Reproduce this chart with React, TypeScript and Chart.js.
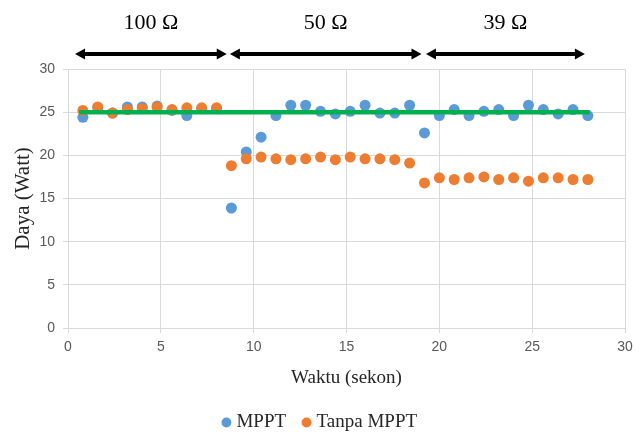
import React, { useEffect, useRef } from "react";
import { Chart, registerables } from "chart.js";

Chart.register(...registerables);

const timeSec = [
  0.8, 1.6, 2.4, 3.2, 4.0, 4.8, 5.6, 6.4, 7.2, 8.0, 8.8, 9.6, 10.4, 11.2, 12.0, 12.8, 13.6, 14.4,
  15.2, 16.0, 16.8, 17.6, 18.4, 19.2, 20.0, 20.8, 21.6, 22.4, 23.2, 24.0, 24.8, 25.6, 26.4, 27.2, 28.0,
];
const mpptWatt = [
  24.4, 25.5, 24.9, 25.6, 25.6, 25.7, 25.2, 24.6, 25.4, 25.4, 13.9, 20.4, 22.1, 24.6, 25.8, 25.8, 25.1, 24.8,
  25.1, 25.8, 24.9, 24.9, 25.8, 22.6, 24.6, 25.3, 24.6, 25.1, 25.3, 24.6, 25.8, 25.3, 24.8, 25.3, 24.6,
];
const tanpaMpptWatt = [
  25.2, 25.6, 24.9, 25.3, 25.4, 25.6, 25.3, 25.5, 25.5, 25.5, 18.8, 19.6, 19.8, 19.6, 19.5, 19.6, 19.8, 19.5,
  19.8, 19.6, 19.6, 19.5, 19.1, 16.8, 17.4, 17.2, 17.4, 17.5, 17.2, 17.4, 17.0, 17.4, 17.4, 17.2, 17.2,
];
const targetX = [0.6, 28.1];
const targetY = [25, 25];

const regionLabels = ["100 Ω", "50 Ω", "39 Ω"];
const regionStart = [0.38, 8.72, 19.28];
const regionEnd = [8.55, 19.04, 27.84];

const seriesLabels = ["MPPT", "Tanpa MPPT"];
const xAxisTitle = "Waktu (sekon)";
const yAxisTitle = "Daya (Watt)";

const SERIF = "'Liberation Serif', 'Times New Roman', serif";
const SANS = "'Liberation Sans', Arial, sans-serif";

const regionArrowsPlugin = {
  id: "regionArrows",
  afterDraw(chart: any) {
    const { ctx } = chart;
    const xs = chart.scales.x;
    const arrowY = 54;
    const textY = 23;
    const head = 10;
    const halfH = 5.5;
    ctx.save();
    ctx.fillStyle = "#000000";
    ctx.strokeStyle = "#000000";
    ctx.lineWidth = 4;
    ctx.font = `22px ${SERIF}`;
    ctx.textAlign = "center";
    ctx.textBaseline = "middle";
    for (let i = 0; i < regionLabels.length; i++) {
      const x1 = xs.getPixelForValue(regionStart[i]);
      const x2 = xs.getPixelForValue(regionEnd[i]);
      ctx.beginPath();
      ctx.moveTo(x1 + head - 1, arrowY);
      ctx.lineTo(x2 - head + 1, arrowY);
      ctx.stroke();
      ctx.beginPath();
      ctx.moveTo(x1, arrowY);
      ctx.lineTo(x1 + head, arrowY - halfH);
      ctx.lineTo(x1 + head, arrowY + halfH);
      ctx.closePath();
      ctx.fill();
      ctx.beginPath();
      ctx.moveTo(x2, arrowY);
      ctx.lineTo(x2 - head, arrowY - halfH);
      ctx.lineTo(x2 - head, arrowY + halfH);
      ctx.closePath();
      ctx.fill();
      ctx.fillText(regionLabels[i], (x1 + x2) / 2, textY);
    }
    ctx.restore();
  },
};

export default function App() {
  const canvasRef = useRef<HTMLCanvasElement | null>(null);

  useEffect(() => {
    if (!canvasRef.current) return;
    const chart = new Chart(canvasRef.current, {
      type: "scatter",
      data: {
        datasets: [
          {
            label: seriesLabels[0],
            data: timeSec.map((x, i) => ({ x, y: mpptWatt[i] })),
            backgroundColor: "#5B9BD5",
            borderColor: "#5B9BD5",
            pointRadius: 5.5,
            pointHoverRadius: 5.5,
            borderWidth: 0,
            order: 3,
          },
          {
            label: seriesLabels[1],
            data: timeSec.map((x, i) => ({ x, y: tanpaMpptWatt[i] })),
            backgroundColor: "#ED7D31",
            borderColor: "#ED7D31",
            pointRadius: 5.5,
            pointHoverRadius: 5.5,
            borderWidth: 0,
            order: 2,
          },
          {
            type: "line",
            label: "",
            data: targetX.map((x, i) => ({ x, y: targetY[i] })),
            borderColor: "#00B050",
            backgroundColor: "#00B050",
            borderWidth: 4.5,
            pointRadius: 0,
            showLine: true,
            fill: false,
            order: 1,
          } as any,
        ],
      },
      options: {
        responsive: false,
        animation: false,
        layout: { padding: { top: 69, right: 0, left: 0, bottom: -8 } },
        plugins: {
          tooltip: { enabled: false },
          legend: {
            position: "bottom",
            labels: {
              filter: (item: any) => item.text !== "",
              sort: (a: any, b: any) => a.datasetIndex - b.datasetIndex,
              usePointStyle: true,
              pointStyle: "circle",
              boxWidth: 1,
              boxHeight: 7,
              padding: 20,
              color: "#262626",
              font: { family: SERIF, size: 19 },
            },
          },
        },
        scales: {
          x: {
            type: "linear",
            min: 0,
            max: 30,
            ticks: {
              stepSize: 5,
              color: "#595959",
              padding: 6,
              font: { family: SANS, size: 14 },
            },
            grid: { color: "#D9D9D9", tickLength: 5, lineWidth: 1 },
            border: { color: "#D9D9D9" },
            title: {
              display: true,
              text: xAxisTitle,
              color: "#262626",
              font: { family: SERIF, size: 19 },
              padding: { top: 0, bottom: 4 },
            },
            afterFit: (scale: any) => {
              scale.height = 65;
            },
          },
          y: {
            type: "linear",
            min: 0,
            max: 30,
            ticks: {
              stepSize: 5,
              color: "#595959",
              padding: 8,
              font: { family: SANS, size: 14 },
            },
            grid: { color: "#D9D9D9", tickLength: 5, lineWidth: 1 },
            border: { color: "#D9D9D9" },
            title: {
              display: true,
              text: yAxisTitle,
              color: "#262626",
              font: { family: SERIF, size: 21 },
              padding: { top: 11, bottom: 0 },
            },
            afterFit: (scale: any) => {
              scale.width = 68;
            },
          },
          yRightSpacer: {
            type: "linear",
            position: "right",
            min: 0,
            max: 30,
            display: true,
            ticks: { display: false },
            grid: { display: false, drawTicks: false },
            border: { display: false },
            afterFit: (scale: any) => {
              scale.width = 18;
            },
          },
        },
      },
      plugins: [regionArrowsPlugin],
    });
    return () => chart.destroy();
  }, []);

  return (
    <div style={{ position: "absolute", left: 0, top: 0, width: 643, height: 434, background: "#ffffff" }}>
      <canvas ref={canvasRef} width={643} height={434} />
    </div>
  );
}
